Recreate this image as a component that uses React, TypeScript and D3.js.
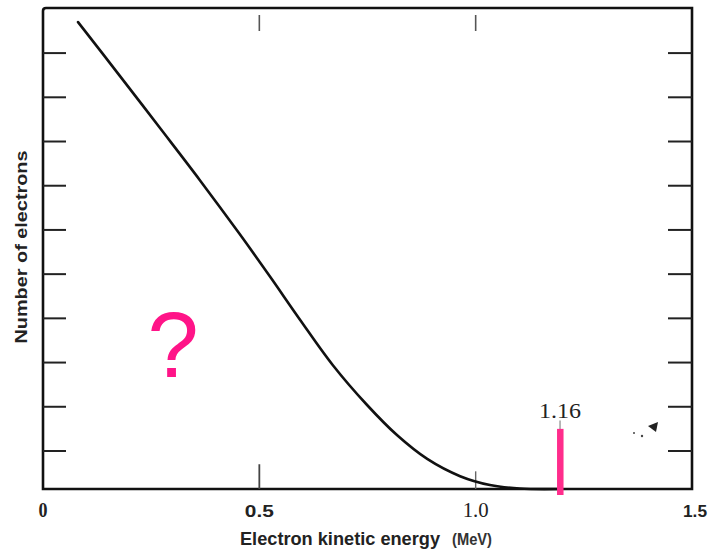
import React from "react";
import * as d3 from "d3";

const energy = [0.081, 0.178, 0.27, 0.363, 0.455, 0.525, 0.594, 0.67, 0.749, 0.818, 0.888, 0.964, 1.033, 1.102, 1.195];
const counts = [10.56, 9.34, 8.17, 6.98, 5.76, 4.8, 3.83, 2.8, 1.9, 1.22, 0.68, 0.29, 0.09, 0.01, 0];

const xTickValues = [0, 0.5, 1.0, 1.5];
const xTickLabels = ["0", "0.5", "1.0", "1.5"];
const yTickValues = [0.86, 1.86, 2.86, 3.86, 4.86, 5.86, 6.86, 7.86, 8.86, 9.86];
const markerEnergy = 1.195;
const markerLabel = "1.16";
const markerTop = 1.36;

const W = 709;
const H = 551;
const L = 43, R = 692, T = 8, B = 489;

export default function App() {
  const x = d3.scaleLinear().domain([0, 1.5]).range([L, R]);
  const y = d3.scaleLinear().domain([0, 10.88]).range([B, T]);
  const pts = energy.map((e, i) => [e, counts[i]] as [number, number]);
  const line = d3
    .line<[number, number]>()
    .x((d) => x(d[0]))
    .y((d) => y(d[1]))
    .curve(d3.curveCatmullRom.alpha(0.5));

  const sans = "'Liberation Sans', Arial, sans-serif";
  const serif = "'Liberation Serif', 'Times New Roman', serif";

  const labelStyle = [
    { font: serif, weight: "bold", size: 22, len: 9, dx: 0 },
    { font: sans, weight: "bold", size: 17, len: 29, dx: 0 },
    { font: serif, weight: "normal", size: 20, len: 26, dx: 0 },
    { font: sans, weight: "bold", size: 17, len: 24, dx: 3 },
  ];

  return (
    <svg
      width={W}
      height={H}
      style={{ position: "absolute", left: 0, top: 0, background: "#fff" }}
    >
      {/* frame */}
      <path
        d={`M${L},${B} L${L},${T + 3} Q${L},${T} ${L + 3},${T} L${R},${T} L${R},${B} Z`}
        fill="none"
        stroke="#111"
        strokeWidth={2.6}
      />
      {/* left and right inner ticks */}
      {yTickValues.map((v) => (
        <g key={v}>
          <line x1={L} x2={L + 23} y1={y(v)} y2={y(v)} stroke="#222" strokeWidth={2} />
          <line x1={R - 24} x2={R} y1={y(v)} y2={y(v)} stroke="#222" strokeWidth={2} />
        </g>
      ))}
      {/* top ticks */}
      {[0.5, 1.0].map((v) => (
        <line key={"t" + v} x1={x(v)} x2={x(v)} y1={T + 7} y2={T + 23} stroke="#555" strokeWidth={1.6} />
      ))}
      {/* bottom ticks */}
      <line x1={x(0.5)} x2={x(0.5)} y1={y(0.56)} y2={B} stroke="#444" strokeWidth={1.8} />
      <line x1={x(1.0)} x2={x(1.0)} y1={y(0.4)} y2={B} stroke="#666" strokeWidth={1.4} />
      <line x1={x(markerEnergy)} x2={x(markerEnergy)} y1={y(1.55)} y2={B} stroke="#888" strokeWidth={1.2} />

      {/* curve */}
      <path d={line(pts) || ""} fill="none" stroke="#111" strokeWidth={2.6} strokeLinecap="round" />

      {/* marker */}
      <rect
        x={x(markerEnergy) - 3}
        y={y(markerTop)}
        width={6.5}
        height={y(0) - y(markerTop) + 6}
        fill="#ff2d8c"
      />
      <text
        x={x(markerEnergy)}
        y={418}
        textAnchor="middle"
        fontFamily={serif}
        fontSize={21}
        textLength={42}
        lengthAdjust="spacingAndGlyphs"
        fill="#222"
      >
        {markerLabel}
      </text>

      {/* scan speck */}
      <path d="M648,426 L658,422 L656,432 Z" fill="#222" />
      <circle cx={634} cy={433} r={1} fill="#444" />
      <circle cx={642} cy={436} r={1.2} fill="#444" />

      {/* x tick labels */}
      {xTickValues.map((v, i) => {
        const s = labelStyle[i];
        return (
          <text
            key={"xl" + v}
            x={x(v) + s.dx}
            y={517}
            textAnchor="middle"
            fontFamily={s.font}
            fontWeight={s.weight}
            fontSize={s.size}
            textLength={s.len}
            lengthAdjust="spacingAndGlyphs"
            fill="#222"
          >
            {xTickLabels[i]}
          </text>
        );
      })}

      {/* axis titles */}
      <text
        x={240}
        y={545}
        fontFamily={sans}
        fontWeight="bold"
        fontSize={18}
        textLength={200}
        lengthAdjust="spacingAndGlyphs"
        fill="#222"
      >
        Electron kinetic energy
      </text>
      <text
        x={452}
        y={545}
        fontFamily={sans}
        fontWeight="bold"
        fontSize={17}
        textLength={40}
        lengthAdjust="spacingAndGlyphs"
        fill="#333"
      >
        (MeV)
      </text>
      <text
        transform="translate(27,247) rotate(-90)"
        textAnchor="middle"
        fontFamily={sans}
        fontWeight="bold"
        fontSize={17}
        textLength={193}
        lengthAdjust="spacingAndGlyphs"
        fill="#222"
      >
        Number of electrons
      </text>

      {/* question mark */}
      <text
        x={173}
        y={377}
        textAnchor="middle"
        fontFamily={sans}
        fontSize={92}
        fill="#ff1488"
      >
        ?
      </text>
    </svg>
  );
}
